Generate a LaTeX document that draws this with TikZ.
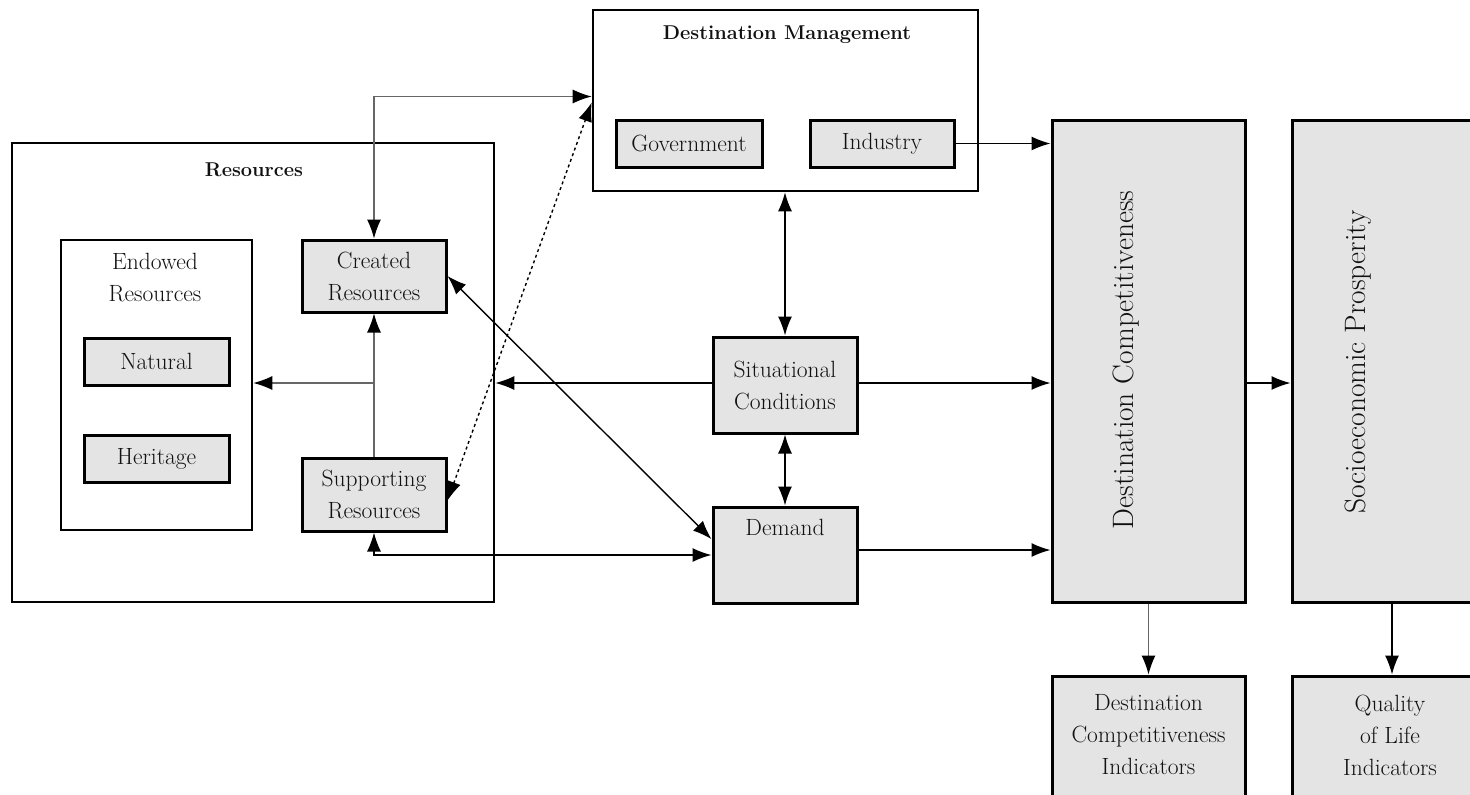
\documentclass[tikz,border=0pt]{standalone}
\usetikzlibrary{arrows.meta,calc}
\definecolor{boxgray}{HTML}{E4E4E4}
\definecolor{txt}{HTML}{111111}
\begin{document}
\begin{tikzpicture}[x=1pt,y=-1pt,
  every node/.style={text=txt, font=\fontsize{23.5}{32}\selectfont},
  outer/.style={draw=black, line width=2.6pt, fill=white, inner sep=0pt},
  gbox/.style={draw=black, line width=3pt, fill=boxgray, inner sep=0pt, align=center},
  ttl/.style={font=\fontsize{20}{24}\selectfont\bfseries},
  conn/.style={line width=1.4pt, draw=black},
  thin/.style={line width=1.2pt, draw=black!60},
  >={Latex[length=19pt,width=14pt,color=black]}
]
\useasboundingbox (0,0) rectangle (1470,795);
\fill[white] (0,0) rectangle (1470,795);

% Resources block
\node[outer, minimum width=482pt, minimum height=459pt] (res) at (253,372.5) {};
\node[ttl] (restitle) at (254,170) {Resources};
\node[outer, minimum width=191pt, minimum height=290pt] (endw) at (156.5,385) {};
\node[align=center, anchor=north] (endwt) at (155,250) {Endowed\\Resources};
\node[gbox, minimum width=145pt, minimum height=47pt] (nat) at (156.5,361.5) {Natural};
\node[gbox, minimum width=145pt, minimum height=47pt] (her) at (156.5,458.5) {Heritage};
\node[gbox, minimum width=144pt, minimum height=72pt] (cre) at (374,276) {Created\\Resources};
\node[gbox, minimum width=144pt, minimum height=73pt] (sup) at (374,494.5) {Supporting\\Resources};

% Destination management
\node[outer, minimum width=385pt, minimum height=181pt] (dm) at (785.5,100.5) {};
\node[ttl] (dmtitle) at (787,35) {Destination Management};
\node[gbox, minimum width=146pt, minimum height=47pt] (gov) at (689,143.5) {Government};
\node[gbox, minimum width=144pt, minimum height=47pt] (ind) at (882,143.5) {Industry};

% middle
\node[gbox, minimum width=144pt, minimum height=96pt] (sit) at (785,385) {Situational\\Conditions};
\node[gbox, minimum width=144pt, minimum height=96pt] (dem) at (785,555) {};
\node[anchor=north] (demt) at (785,516) {Demand};

% right
\node[gbox, minimum width=193pt, minimum height=482pt] (dc) at (1148.5,361) {};
\node[rotate=90, font=\fontsize{29.5}{34}\selectfont] (dct) at (1126,360) {Destination Competitiveness};
\node[gbox, minimum width=200pt, minimum height=482pt] (sp) at (1392,361) {};
\node[rotate=90, font=\fontsize{29.5}{34}\selectfont] (spt) at (1358,362) {Socioeconomic Prosperity};
\node[gbox, minimum width=193pt, minimum height=130pt] (dci) at (1148.5,741) {};
\node[align=center] (dcit) at (1148.5,735) {Destination\\Competitiveness\\Indicators};
\node[gbox, minimum width=200pt, minimum height=130pt] (qol) at (1392,741) {};
\node[align=center] (qolt) at (1390,735) {Quality\\of Life\\Indicators};

% connectors
\draw[thin, <->] (cre.north) |- ([yshift=4pt]dm.west);
\draw[conn, dashed, <->] ([yshift=-6pt]sup.east) -- ([yshift=-2pt]dm.west);
\draw[conn, <->] (cre.east) -- ($(dem.north west)!0.34!(dem.south west)$);
\draw[conn, <->] (sup.south) |- (dem.west);
\draw[conn, ->] ([yshift=2pt]sit.west) -- ([yshift=2pt]sit.west -| res.east);
\draw[thin, ->] (sup.north) -- (cre.south);
\draw[thin, ->] ([yshift=2pt]cre.south |- sit.west) -- ([yshift=2pt]endw.east |- sit.west);
\draw[conn, <->] (dm.south -| sit.north) -- (sit.north);
\draw[conn, <->] (sit.south) -- (dem.north);
\draw[conn, ->] ([yshift=2pt]sit.east) -- ([yshift=2pt]sit.east -| dc.west);
\draw[conn, ->] ([yshift=5pt]dem.east) -- ([yshift=5pt]dem.east -| dc.west);
\draw[conn, ->] (ind.east) -- (ind.east -| dc.west);
\draw[conn, ->] ([yshift=2pt]dc.east |- sit.east) -- ([yshift=2pt]sp.west |- sit.east);
\draw[thin, ->] (dc.south) -- (dci.north);
\draw[conn, ->] (sp.south) -- (qol.north);
\end{tikzpicture}
\end{document}
